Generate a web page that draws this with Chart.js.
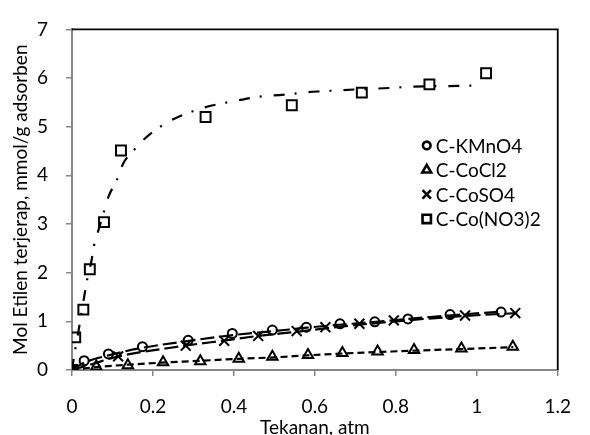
<!DOCTYPE html>
<html>
<head>
<meta charset="utf-8">
<script src="https://cdn.jsdelivr.net/npm/chart.js@4.4.1/dist/chart.umd.min.js"></script>
<style>
  html, body { margin: 0; padding: 0; background: #fff; }
  #wrap { width: 590px; height: 435px; position: relative; }
</style>
</head>
<body>
<div id="wrap"><canvas id="myChart" width="590" height="435"></canvas></div>
<script>
// series names (legend)
var names = ["C-KMnO4", "C-CoCl2", "C-CoSO4", "C-Co(NO3)2"]

var kmno4X = [0, 0.03, 0.09, 0.174, 0.287, 0.396, 0.495, 0.579, 0.662, 0.748, 0.83, 0.934, 1.06]
var kmno4Y = [0, 0.19, 0.33, 0.48, 0.61, 0.75, 0.82, 0.88, 0.95, 0.99, 1.05, 1.14, 1.19]

var cocl2X = [0, 0.06, 0.138, 0.225, 0.317, 0.412, 0.495, 0.583, 0.668, 0.755, 0.845, 0.962, 1.089]
var cocl2Y = [0, 0.07, 0.10, 0.16, 0.18, 0.23, 0.27, 0.31, 0.35, 0.38, 0.41, 0.44, 0.48]

var coso4X = [0, 0.114, 0.281, 0.376, 0.46, 0.555, 0.626, 0.71, 0.795, 0.971, 1.095]
var coso4Y = [0, 0.28, 0.50, 0.60, 0.70, 0.80, 0.88, 0.95, 1.02, 1.12, 1.17]

var conoX = [0, 0.008, 0.028, 0.044, 0.079, 0.121, 0.33, 0.543, 0.716, 0.883, 1.023]
var conoY = [0, 0.67, 1.24, 2.07, 3.04, 4.51, 5.20, 5.44, 5.70, 5.87, 6.10]

// trend lines, also
var kmno4FitX = [0, 0.03, 0.09, 0.17, 0.29, 0.4, 0.5, 0.58, 0.66, 0.75, 0.83, 0.93, 1.06]
var kmno4FitY = [0, 0.15, 0.30, 0.45, 0.60, 0.72, 0.80, 0.87, 0.93, 0.99, 1.05, 1.12, 1.20]

var coso4FitX = [0, 0.05, 0.11, 0.28, 0.38, 0.46, 0.56, 0.63, 0.71, 0.8, 0.97, 1.1]
var coso4FitY = [0, 0.12, 0.27, 0.50, 0.61, 0.70, 0.79, 0.86, 0.93, 1.00, 1.11, 1.17]

var cocl2FitX = [0, 0.06, 0.14, 0.22, 0.32, 0.41, 0.5, 0.58, 0.67, 0.76, 0.85, 0.96, 1.09]
var cocl2FitY = [0, 0.06, 0.11, 0.15, 0.19, 0.23, 0.26, 0.30, 0.34, 0.37, 0.40, 0.43, 0.47]

var conoFitX = [0, 0.008, 0.016, 0.03, 0.037, 0.048, 0.054, 0.067, 0.078, 0.091, 0.11, 0.127, 0.152, 0.174, 0.213, 0.249, 0.289, 0.333, 0.371, 0.416, 0.454, 0.495, 0.539, 0.58, 0.622, 0.662, 0.793, 0.833, 0.96, 1.015]
var conoFitY = [0, 0.43, 0.80, 1.50, 1.84, 2.24, 2.54, 2.92, 3.23, 3.58, 3.89, 4.25, 4.51, 4.71, 4.97, 5.15, 5.29, 5.41, 5.48, 5.55, 5.61, 5.64, 5.67, 5.71, 5.73, 5.75, 5.80, 5.82, 5.84, 5.85]

var xTicks = [0, 0.2, 0.4, 0.6, 0.8, 1, 1.2]
var yTicks = [0, 1, 2, 3, 4, 5, 6, 7]

function pts(xs, ys) {
  var out = []
  for (var i = 0; i < xs.length; i++) out.push({ x: xs[i], y: ys[i] })
  return out
}

var FONT = "Lato, 'Open Sans', sans-serif"
var GREY = "#868686"

function markerSet(label, data, style, r) {
  return {
    label: label, data: data, showLine: false,
    pointStyle: style, pointRadius: r, pointHoverRadius: r,
    pointBorderColor: "#000", pointBackgroundColor: "rgba(0,0,0,0)",
    pointBorderWidth: 2, order: 2
  }
}

function fitSet(data, dash) {
  return {
    label: "", data: data, showLine: true, fill: false,
    borderColor: "#000", borderWidth: 2.2, borderDash: dash,
    pointRadius: 0, cubicInterpolationMode: "monotone", order: 1
  }
}

var markers = [
  markerSet(names[0], pts(kmno4X, kmno4Y), "circle", 4.5),
  markerSet(names[1], pts(cocl2X, cocl2Y), "triangle", 6),
  markerSet(names[2], pts(coso4X, coso4Y), "crossRot", 7),
  markerSet(names[3], pts(conoX, conoY), "rect", 7)
]

var fits = [
  fitSet(pts(kmno4FitX, kmno4FitY), [14, 5]),
  fitSet(pts(cocl2FitX, cocl2FitY), [7, 4]),
  fitSet(pts(coso4FitX, coso4FitY), [14, 5]),
  fitSet(pts(conoFitX, conoFitY), [11, 10, 2, 12])
]

// legend inside the plot + black top/right frame
var extras = {
  id: "extras",
  afterDraw: function (chart) {
    var ctx = chart.ctx, a = chart.chartArea
    ctx.save()
    ctx.strokeStyle = "#000"
    ctx.lineWidth = 1.8
    ctx.beginPath()
    ctx.moveTo(a.left, a.top)
    ctx.lineTo(a.right, a.top)
    ctx.lineTo(a.right, a.bottom)
    ctx.stroke()

    var lx = a.right - 131, ly = a.top + 116
    ctx.textBaseline = "middle"
    for (var i = 0; i < markers.length; i++) {
      var m = markers[i]
      var y = ly + i * 24.5
      ctx.strokeStyle = "#000"
      ctx.fillStyle = "rgba(0,0,0,0)"
      ctx.lineWidth = 2.6
      Chart.helpers.drawPoint(ctx, {
        pointStyle: m.pointStyle, radius: m.pointRadius * 0.85, borderWidth: 2.6, rotation: 0
      }, lx, y)
      ctx.fillStyle = "#000"
      ctx.font = "19px " + FONT
      ctx.fillText(m.label, lx + 9, y + 1)
    }
    ctx.restore()
  }
}

var chart = new Chart(document.getElementById("myChart"), {
  type: "scatter",
  data: { datasets: fits.concat(markers) },
  options: {
    responsive: false,
    animation: false,
    layout: { padding: { top: 21, right: 14, left: 0, bottom: 0 } },
    plugins: { legend: { display: false }, tooltip: { enabled: false } },
    scales: {
      x: {
        type: "linear", min: 0, max: 1.2,
        afterBuildTicks: function (s) { s.ticks = xTicks.map(function (v) { return { value: v } }) },
        afterFit: function (s) { s.height = 65 },
        grid: { display: true, drawOnChartArea: false, drawTicks: true, tickLength: 6, color: GREY, lineWidth: 1.5 },
        border: { color: GREY, width: 2 },
        ticks: { color: "#000", font: { family: FONT, size: 19 }, padding: 19, maxRotation: 0,
          callback: function (v) { return String(v) } },
        title: { display: true, text: "Tekanan, atm", color: "#000", font: { family: FONT, size: 19 }, padding: { top: 0, bottom: -4 } }
      },
      y: {
        type: "linear", min: 0, max: 7,
        afterBuildTicks: function (s) { s.ticks = yTicks.map(function (v) { return { value: v } }) },
        afterFit: function (s) { s.width = 72 },
        grid: { display: true, drawOnChartArea: false, drawTicks: true, tickLength: 6, color: GREY, lineWidth: 1.5 },
        border: { color: GREY, width: 2 },
        ticks: { color: "#000", font: { family: FONT, size: 19 }, padding: 18 },
        title: { display: true, text: "Mol Etilen terjerap, mmol/g adsorben", color: "#000", font: { family: FONT, size: 19 }, padding: { top: 9, bottom: 0 } }
      }
    }
  },
  plugins: [extras]
})
</script>
</body>
</html>
